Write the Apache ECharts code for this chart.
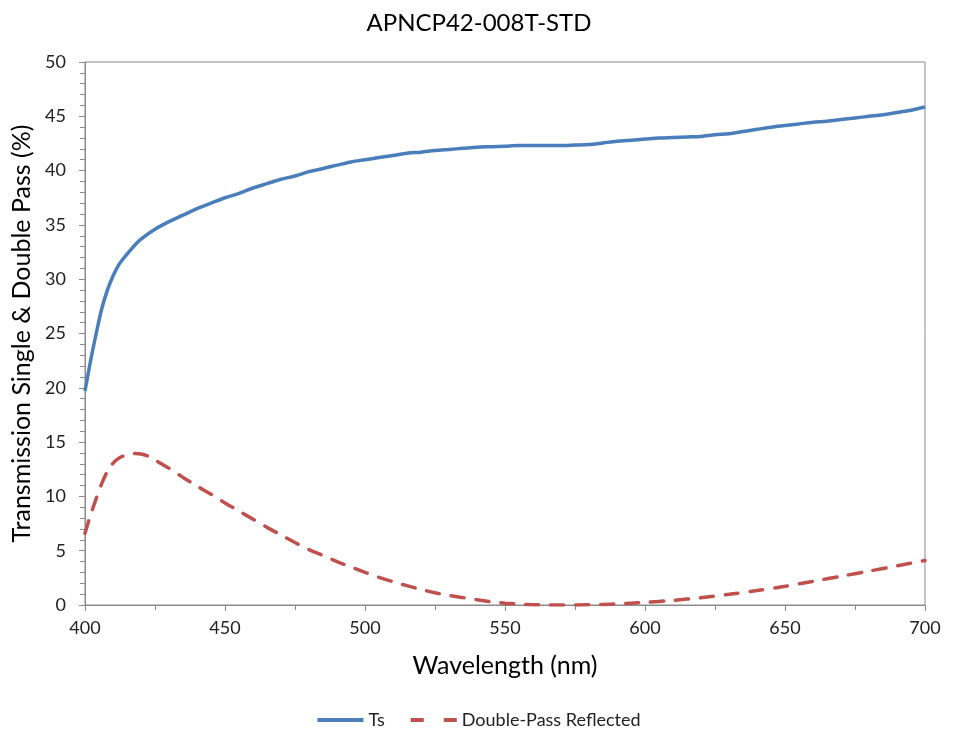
<!DOCTYPE html>
<html>
<head>
<meta charset="utf-8">
<script src="https://cdn.jsdelivr.net/npm/echarts@6/dist/echarts.min.js"></script>
<style>html,body{margin:0;padding:0;background:#fff;}#c{width:958px;height:730px;}</style>
</head>
<body>
<div id="c"></div>
<script>
const titleText = 'APNCP42-008T-STD';
const xAxisName = 'Wavelength (nm)';
const yAxisName = 'Transmission Single & Double Pass (%)';
const seriesNames = ['Ts', 'Double-Pass Reflected'];

const tsWavelengths = [400,402,404,406,408,410,412,414,416,418,420,425,430,435,440,445,450,455,460,465,470,475,480,485,490,495,500,505,510,515,520,525,530,535,540,545,550,555,560,565,570,575,580,585,590,595,600,605,610,615,620,625,630,635,640,645,650,655,660,665,670,675,680,685,690,695,700];
const tsValues = [19.7,22.5,25.0,27.3,29.0,30.3,31.3,32.0,32.6,33.2,33.7,34.6,35.3,35.9,36.5,37.0,37.5,37.9,38.4,38.8,39.2,39.5,39.9,40.2,40.5,40.8,41.0,41.2,41.4,41.6,41.7,41.85,41.95,42.05,42.15,42.2,42.25,42.3,42.3,42.3,42.3,42.35,42.4,42.55,42.7,42.8,42.9,43.0,43.05,43.1,43.15,43.3,43.4,43.6,43.8,44.0,44.15,44.3,44.45,44.55,44.7,44.85,45.0,45.15,45.35,45.55,45.85];

const dpWavelengths = [400,402,404,406,408,410,412,414,416,418,420,423,426,430,435,440,445,450,455,460,465,470,475,480,485,490,495,500,505,510,515,520,525,530,535,540,545,550,555,560,565,570,575,580,585,590,595,600,610,620,630,640,650,660,670,680,690,700];
const dpValues = [6.6,8.3,9.8,11.2,12.3,13.05,13.5,13.75,13.9,13.95,13.9,13.65,13.2,12.6,11.75,10.95,10.2,9.4,8.65,7.9,7.15,6.45,5.75,5.1,4.55,4.0,3.5,3.0,2.55,2.15,1.78,1.43,1.13,0.88,0.68,0.48,0.3,0.16,0.08,0.03,0.01,0.0,0.0,0.02,0.05,0.1,0.17,0.24,0.43,0.67,0.98,1.33,1.72,2.18,2.65,3.12,3.6,4.1];

const tsData = tsWavelengths.map((w, i) => [w, tsValues[i]]);
const dpData = dpWavelengths.map((w, i) => [w, dpValues[i]]);

const BLUE = '#4a7ebb';
const RED = '#c0504d';
const AXIS = '#8a8a8a';
const FONT = 'Lato, "Open Sans", sans-serif';
const chart = echarts.init(document.getElementById('c'), null, {renderer: 'canvas'});
chart.setOption({
  animation: false,
  backgroundColor: '#ffffff',
  title: {
    text: titleText, left: 'center', top: 6,
    textStyle: {fontFamily: FONT, fontSize: 24, fontWeight: 'normal', color: '#000'}
  },
  legend: {
    top: 706, left: 'center', itemWidth: 46, itemHeight: 4, itemGap: 26,
    textStyle: {fontFamily: FONT, fontSize: 18, color: '#222'},
    data: [
      {name: seriesNames[0], icon: 'path://M0,0H46V4H0Z', itemStyle: {color: BLUE}},
      {name: seriesNames[1], icon: 'path://M0,0H13V4H0Z M33,0H46V4H33Z', itemStyle: {color: RED}}
    ]
  },
  grid: {left: 85, right: 33, top: 62, bottom: 125, show: true, borderColor: AXIS, borderWidth: 1},
  xAxis: {
    type: 'value', min: 400, max: 700, interval: 50,
    name: xAxisName, nameLocation: 'middle', nameGap: 48,
    nameTextStyle: {fontFamily: FONT, fontSize: 25, color: '#000'},
    axisLine: {show: true, lineStyle: {color: AXIS, width: 1}},
    axisTick: {show: true, inside: false, length: 6, lineStyle: {color: AXIS}},
    minorTick: {show: true, splitNumber: 2, length: 5, lineStyle: {color: AXIS}},
    axisLabel: {fontFamily: FONT, fontSize: 18, color: '#222', margin: 14},
    splitLine: {show: false}
  },
  yAxis: {
    type: 'value', min: 0, max: 50, interval: 5,
    name: yAxisName, nameLocation: 'middle', nameGap: 47, nameRotate: 90,
    nameTextStyle: {fontFamily: FONT, fontSize: 25, color: '#000'},
    axisLine: {show: true, lineStyle: {color: AXIS, width: 1}},
    axisTick: {show: true, inside: false, length: 6, lineStyle: {color: AXIS}},
    minorTick: {show: true, splitNumber: 5, length: 5, lineStyle: {color: AXIS}},
    axisLabel: {fontFamily: FONT, fontSize: 18, color: '#222', margin: 19},
    splitLine: {show: false}
  },
  series: [
    {
      name: seriesNames[0], type: 'line', data: tsData, smooth: 0.3,
      showSymbol: false, symbol: 'none',
      lineStyle: {color: BLUE, width: 3.5},
      itemStyle: {color: BLUE}
    },
    {
      name: seriesNames[1], type: 'line', data: dpData, smooth: 0.3,
      showSymbol: false, symbol: 'none',
      lineStyle: {color: RED, width: 3.5, type: [13, 12], cap: 'round'},
      itemStyle: {color: RED}
    }
  ]
});
</script>
</body>
</html>
